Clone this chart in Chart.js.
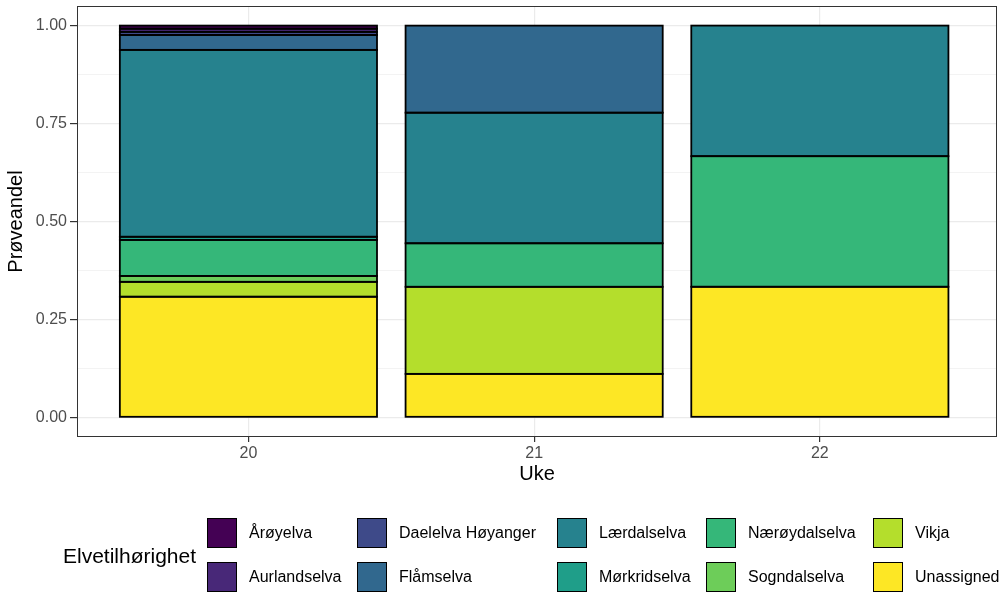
<!DOCTYPE html>
<html>
<head>
<meta charset="utf-8">
<script src="https://cdn.jsdelivr.net/npm/chart.js@4.4.1/dist/chart.umd.min.js"></script>
<style>
  body { margin: 0; background: #fff; font-family: "Liberation Sans", Arial, sans-serif; }
  #wrap { position: relative; width: 1002px; height: 592px; overflow: hidden; }
  #legendTitle { position: absolute; left: 63px; top: 544px; font-size: 21px; line-height: 24px; color: #000; }
  #legend { position: absolute; left: 207px; top: 511px; display: grid; grid-auto-flow: column;
            grid-template-rows: 44px 44px; grid-template-columns: 150px 200px 149px 167px auto; }
  #legend .item { display: flex; align-items: center; font-size: 16px; color: #000; white-space: nowrap; }
  #legend .key { width: 28px; height: 28px; border: 1.5px solid #000; margin-right: 12px; box-sizing: content-box; }
</style>
</head>
<body>
<div id="wrap">
  <canvas id="chart" width="1002" height="592"></canvas>
  <div id="legendTitle">Elvetilhørighet</div>
  <div id="legend"></div>
</div>
<script>
// weeks on x axis
const weeks = [20, 21, 22];

// share of samples per river, one value per week (null = none)
const aroyelva       = [0.008, null, null];
const aurlandselva   = [0.008, null, null];
const daelelva       = [0.008, null, null];
const flamselva      = [0.038, 0.2222, null];
const laerdalselva   = [0.477, 0.3333, 0.3333];
const morkridselva   = [0.008, null, null];
const naeroydalselva = [0.092, 0.1111, 0.3333];
const sogndalselva   = [0.015, null, null];
const vikja          = [0.038, 0.2222, null];
const unassigned     = [0.308, 0.1111, 0.3334];

const rivers = ['Årøyelva', 'Aurlandselva', 'Daelelva Høyanger', 'Flåmselva', 'Lærdalselva',
                'Mørkridselva', 'Nærøydalselva', 'Sogndalselva', 'Vikja', 'Unassigned'];
const riverShares = [aroyelva, aurlandselva, daelelva, flamselva, laerdalselva,
                     morkridselva, naeroydalselva, sogndalselva, vikja, unassigned];
const riverColors = ['#440154', '#482878', '#3E4A89', '#31688E', '#26828E',
                     '#1F9E89', '#35B779', '#6DCD59', '#B4DE2C', '#FDE725'];

const yMajor = [0, 0.25, 0.5, 0.75, 1];
const yMinor = [0.125, 0.375, 0.625, 0.875];

const FONT = '"Liberation Sans", Arial, sans-serif';

// ggplot stacks the first level on top, so feed datasets bottom-up
const datasets = rivers.map((r, i) => ({
  label: r,
  data: riverShares[i],
  backgroundColor: riverColors[i],
  borderWidth: 0,
  categoryPercentage: 1,
  barPercentage: 0.9
})).reverse();

// outlines centred on the bar edges (like ggplot), then the panel frame
const outlines = {
  id: 'outlines',
  afterDatasetsDraw(chart) {
    const { ctx, chartArea: a } = chart;
    ctx.save();
    ctx.strokeStyle = '#000';
    ctx.lineWidth = 1.8;
    chart.data.datasets.forEach((ds, i) => {
      chart.getDatasetMeta(i).data.forEach((el, j) => {
        if (ds.data[j] == null) return;
        const p = el.getProps(['x', 'y', 'base', 'width'], true);
        const top = Math.min(p.y, p.base);
        ctx.strokeRect(p.x - p.width / 2, top, p.width, Math.abs(p.base - p.y));
      });
    });
    ctx.strokeStyle = '#333333';
    ctx.lineWidth = 1;
    ctx.strokeRect(a.left + 0.5, a.top + 0.5, a.right - a.left - 1, a.bottom - a.top - 1);
    ctx.restore();
  }
};

new Chart(document.getElementById('chart'), {
  type: 'bar',
  data: { labels: weeks, datasets: datasets },
  plugins: [outlines],
  options: {
    responsive: false,
    animation: false,
    layout: { padding: { left: 0, right: 5, top: 6, bottom: 102 } },
    plugins: { legend: { display: false }, tooltip: { enabled: false } },
    scales: {
      x: {
        type: 'linear',
        stacked: true,
        offset: false,
        min: 19.4,
        max: 22.62,
        afterBuildTicks: s => { s.ticks = weeks.map(v => ({ value: v })); },
        afterFit: s => { s.height = 53; s.paddingLeft = 0; s.paddingRight = 0; },
        border: { display: false },
        grid: { offset: false, color: '#EBEBEB', lineWidth: 1.2, tickColor: '#333333', tickLength: 5 },
        ticks: { color: '#4D4D4D', font: { family: FONT, size: 16 }, padding: 2,
                 maxRotation: 0, autoSkip: false, callback: v => String(v) },
        title: { display: true, text: 'Uke', color: '#000', font: { family: FONT, size: 20 },
                 padding: { top: 4, bottom: 4 } }
      },
      y: {
        stacked: true,
        min: -0.05,
        max: 1.05,
        afterBuildTicks: s => {
          s.ticks = yMajor.concat(yMinor).sort((a, b) => a - b).map(v => ({ value: v }));
        },
        afterFit: s => { s.width = 77; s.paddingTop = 0; s.paddingBottom = 0; },
        border: { display: false },
        grid: {
          color: '#EBEBEB',
          lineWidth: c => yMajor.includes(c.tick.value) ? 1.2 : 0.6,
          tickColor: c => yMajor.includes(c.tick.value) ? '#333333' : 'rgba(0,0,0,0)',
          tickLength: 7
        },
        ticks: {
          color: '#4D4D4D', font: { family: FONT, size: 16 }, padding: 3, autoSkip: false,
          callback: v => yMajor.includes(v) ? v.toFixed(2) : ''
        },
        title: { display: true, text: 'Prøveandel', color: '#000', font: { family: FONT, size: 20 },
                 padding: { top: 4, bottom: 4 } }
      }
    }
  }
});

// legend: keys in 2 rows filled column by column
const legend = document.getElementById('legend');
rivers.forEach((r, i) => {
  const it = document.createElement('div');
  it.className = 'item';
  it.innerHTML = '<span class="key" style="background:' + riverColors[i] + '"></span><span>' + r + '</span>';
  legend.appendChild(it);
});
</script>
</body>
</html>
